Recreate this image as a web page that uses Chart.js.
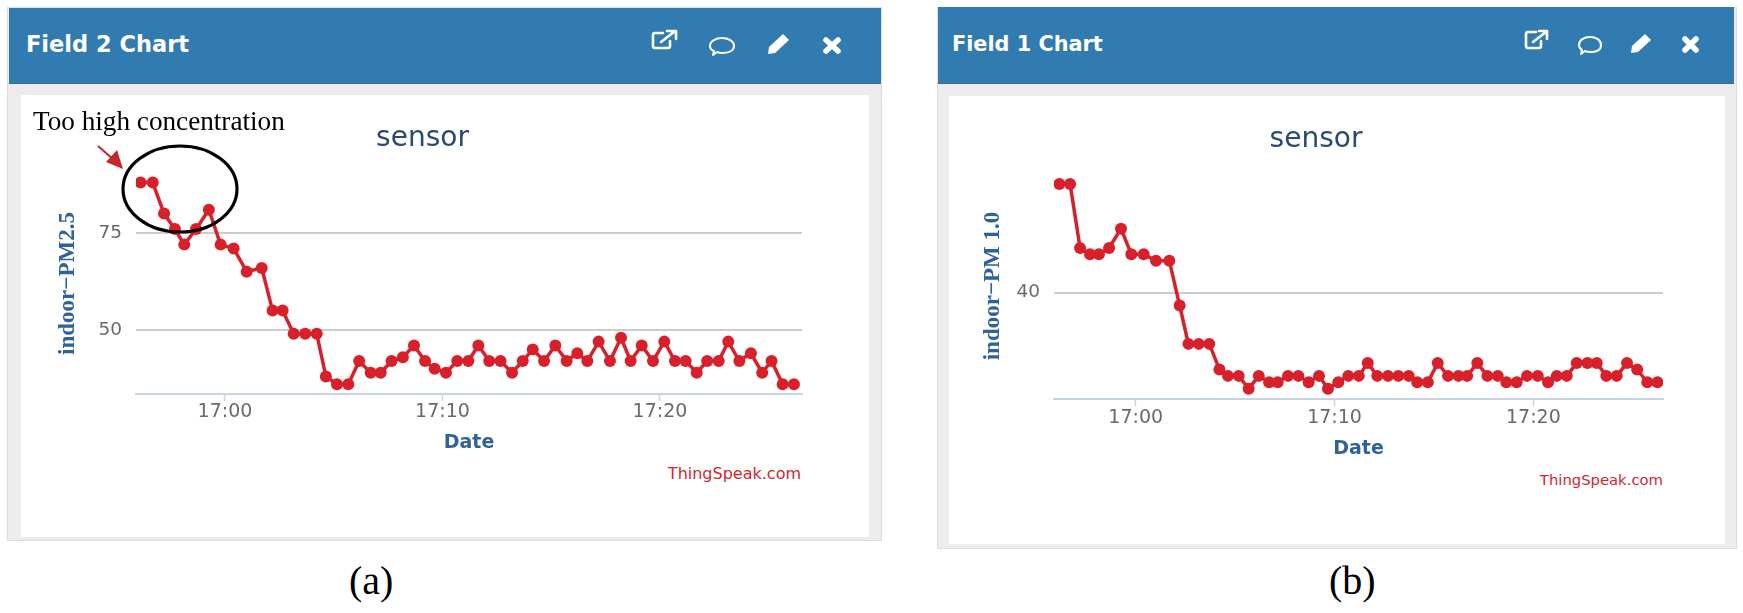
<!DOCTYPE html>
<html>
<head>
<meta charset="utf-8">
<title>Field charts</title>
<script src="https://cdn.jsdelivr.net/npm/chart.js@4/dist/chart.umd.js"></script>
<style>
  html, body { margin: 0; padding: 0; background: #fff; width: 1743px; height: 613px; overflow: hidden; }
  .abs { position: absolute; }
  .panel { background: #ececec; border: 1px solid #dcdcdc; box-sizing: border-box; }
  .head { background: #327bb0; border-bottom: 1px solid #2a6d9f; box-sizing: border-box; }
  .white { background: #fff; }
  .field { color: #fff; font: bold 22.5px "DejaVu Sans"; line-height: 30px; white-space: nowrap; }
  .credit { color: #d0262f; font: 16px "DejaVu Sans"; line-height: 20px; white-space: nowrap; text-align: right; }
  .serif { color: #000; font-family: "Liberation Serif"; white-space: nowrap; }
  canvas { position: absolute; }
  svg { position: absolute; left: 0; top: 0; }
</style>
</head>
<body>

<div class="abs panel" style="left:7px;top:7px;width:875px;height:534px"></div>
<div class="abs head" style="left:9px;top:8px;width:872px;height:76px"></div>
<div class="abs white" style="left:21px;top:95px;width:848px;height:442px"></div>
<div class="abs field" style="left:26px;top:29px">Field 2 Chart</div>

<div class="abs panel" style="left:937px;top:7px;width:800px;height:542px"></div>
<div class="abs head" style="left:938px;top:7px;width:796px;height:77px"></div>
<div class="abs white" style="left:949px;top:96px;width:776px;height:448px"></div>
<div class="abs field" style="left:952px;top:29px;font-size:20.8px">Field 1 Chart</div>

<canvas id="chartA" width="781" height="359" style="left:43px;top:95px"></canvas>
<canvas id="chartB" width="714" height="364" style="left:969px;top:96px"></canvas>

<div class="abs credit" style="right:942px;top:464px">ThingSpeak.com</div>
<div class="abs credit" style="right:80px;top:470px;font-size:14.8px">ThingSpeak.com</div>

<div class="abs serif" style="left:33px;top:106px;font-size:27.2px;line-height:30px">Too high concentration</div>
<div class="abs serif" style="left:349px;top:556px;font-size:40px;line-height:50px">(a)</div>
<div class="abs serif" style="left:1329px;top:556px;font-size:40px;line-height:50px">(b)</div>

<svg width="1743" height="613" viewBox="0 0 1743 613">
  <!-- annotation on the left chart -->
  <ellipse cx="180" cy="189" rx="57" ry="43" fill="none" stroke="#000" stroke-width="3.2"/>
  <line x1="98" y1="146" x2="114" y2="160" stroke="#c1272d" stroke-width="2"/>
  <polygon points="123,169 106,162 117,150" fill="#c1272d"/>

  <!-- header icons -->
  <g fill="none" stroke="#fff" stroke-width="2.6" stroke-linecap="round" stroke-linejoin="round">
    <path d="M670 41v5a2 2 0 0 1-2 2h-13a2 2 0 0 1-2-2v-11a2 2 0 0 1 2-2h8"/>
    <path d="M661 42l13-10M667 31h9v8"/>
    <path d="M710 46c0-5 6-8 12-8s12 3 12 8-6 7-12 7c-2 0-3 0-5-1l-4 3 1-4c-3-1-4-3-4-5z" stroke-width="2"/>
    <path d="M1541 41v5a2 2 0 0 1-2 2h-11a2 2 0 0 1-2-2v-12a2 2 0 0 1 2-2h8"/>
    <path d="M1533 42l13-10M1539 31h8v8"/>
    <path d="M1579 45c0-5 5-8 11-8s11 3 11 8-5 7-11 7c-2 0-3 0-5-1l-4 3 1-4c-2-1-3-3-3-5z" stroke-width="2"/>
  </g>
  <g fill="#fff">
    <path d="M783 34l6 6-14 13-7 1 1-7z"/>
    <path d="M1645 34l6 6-13 12-7 1 1-7z"/>
  </g>
  <g stroke="#fff" stroke-width="5.5" stroke-linecap="round">
    <path d="M826 40l12 11M838 40l-12 11"/>
    <path d="M1685 39l11 11M1696 39l-11 11"/>
  </g>
</svg>

<script>
// minutes relative to 17:00
const minutesA = [-3.88, -3.32, -2.80, -2.30, -1.87, -1.33, -0.74, -0.20, 0.40, 1.00,
  1.69, 2.19, 2.65, 3.16, 3.69, 4.22, 4.64, 5.15, 5.67, 6.17,
  6.70, 7.16, 7.66, 8.18, 8.69, 9.20, 9.64, 10.16, 10.68, 11.19,
  11.65, 12.15, 12.67, 13.20, 13.69, 14.15, 14.67, 15.19, 15.71, 16.20,
  16.66, 17.18, 17.70, 18.21, 18.65, 19.16, 19.68, 20.20, 20.69, 21.18,
  21.69, 22.17, 22.70, 23.14, 23.65, 24.18, 24.70, 25.13, 25.64, 26.16];
const pm25 = [88, 88, 80, 76, 72, 76, 81, 72, 71, 65,
  66, 55, 55, 49, 49, 49, 38, 36, 36, 42,
  39, 39, 42, 43, 46, 42, 40, 39, 42, 42,
  46, 42, 42, 39, 42, 45, 42, 46, 42, 44,
  42, 47, 42, 48, 42, 46, 42, 47, 42, 42,
  39, 42, 42, 47, 42, 44, 39, 42, 36, 36];

const minutesB = [-3.84, -3.30, -2.80, -2.30, -1.85, -1.34, -0.74, -0.22, 0.40, 1.02,
  1.69, 2.21, 2.65, 3.17, 3.70, 4.21, 4.64, 5.18, 5.68, 6.19,
  6.71, 7.14, 7.66, 8.18, 8.70, 9.22, 9.67, 10.19, 10.69, 11.22,
  11.67, 12.15, 12.69, 13.21, 13.73, 14.16, 14.69, 15.19, 15.71, 16.23,
  16.67, 17.18, 17.69, 18.21, 18.64, 19.16, 19.68, 20.22, 20.74, 21.18,
  21.68, 22.18, 22.72, 23.19, 23.67, 24.19, 24.71, 25.22, 25.73, 26.24];
const pm10 = [57, 57, 47, 46, 46, 47, 50, 46, 46, 45,
  45, 38, 32, 32, 32, 28, 27, 27, 25, 27,
  26, 26, 27, 27, 26, 27, 25, 26, 27, 27,
  29, 27, 27, 27, 27, 26, 26, 29, 27, 27,
  27, 29, 27, 27, 26, 26, 27, 27, 26, 27,
  27, 29, 29, 29, 27, 27, 29, 28, 26, 26];

const xTickMinutes = [0, 10, 20];
const xTickLabels = ['17:00', '17:10', '17:20'];
const yTicksA = [50, 75];
const yTicksB = [40];

const red = '#d8202a';
const blue = '#2f6299';

function drawChart(id, cfg) {
  return new Chart(document.getElementById(id).getContext('2d'), {
    type: 'line',
    data: {
      datasets: [{
        data: cfg.minutes.map((m, i) => ({ x: m, y: cfg.values[i] })),
        borderColor: red,
        backgroundColor: red,
        borderWidth: 3.5,
        pointRadius: 6,
        pointBorderWidth: 0,
        tension: 0
      }]
    },
    options: {
      responsive: false,
      animation: false,
      layout: { autoPadding: false, padding: { left: 0, right: cfg.padRight, top: 0, bottom: 0 } },
      plugins: {
        legend: { display: false },
        tooltip: { enabled: false },
        title: {
          display: true,
          text: 'sensor',
          color: '#2b4a72',
          font: { family: 'DejaVu Sans', size: 28, weight: 'normal' },
          padding: cfg.titlePad
        }
      },
      scales: {
        x: {
          type: 'linear',
          min: cfg.xMin,
          max: cfg.xMax,
          afterBuildTicks: s => { s.ticks = xTickMinutes.map(v => ({ value: v })); },
          afterFit: s => { s.height = cfg.xHeight; },
          border: { color: '#c5d3e6', width: 2 },
          grid: { drawOnChartArea: false, color: '#c5d3e6', tickLength: 7, tickWidth: 1.5 },
          ticks: {
            color: '#6a6a6a',
            font: { family: 'DejaVu Sans', size: 19 },
            padding: 0,
            maxRotation: 0,
            callback: v => xTickLabels[xTickMinutes.indexOf(v)]
          },
          title: {
            display: true,
            text: 'Date',
            color: blue,
            font: { family: 'DejaVu Sans', size: 19, weight: 'bold' },
            padding: 0
          }
        },
        y: {
          min: cfg.yMin,
          max: cfg.yMax,
          afterBuildTicks: s => { s.ticks = cfg.yTicks.map(v => ({ value: v })); },
          afterFit: s => { s.width = cfg.yWidth; },
          border: { display: false },
          grid: { color: '#cccccc', lineWidth: 2, drawTicks: false },
          ticks: {
            color: '#6a6a6a',
            font: { family: 'DejaVu Sans', size: 18.5 },
            padding: 14
          },
          title: {
            display: true,
            text: cfg.yTitle,
            color: blue,
            font: { family: 'Liberation Serif', size: 23, weight: 'bold' },
            padding: { top: cfg.yTitlePad, bottom: 0 }
          }
        }
      }
    }
  });
}

drawChart('chartA', {
  minutes: minutesA, values: pm25, yTicks: yTicksA, yTitle: 'indoor\u2212PM2.5',
  xMin: -4.09, xMax: 26.53, yMin: 33.5, yMax: 90.46,
  padRight: 22, yWidth: 93, xHeight: 60, yTitlePad: 11,
  titlePad: { top: 27, bottom: 17.4 }
});

drawChart('chartB', {
  minutes: minutesB, values: pm10, yTicks: yTicksB, yTitle: 'indoor\u2212PM 1.0',
  xMin: -4.11, xMax: 26.52, yMin: 23.34, yMax: 58.75,
  padRight: 20, yWidth: 85, xHeight: 60.7, yTitlePad: 10,
  titlePad: { top: 27, bottom: 16.1 }
});
</script>
</body>
</html>
